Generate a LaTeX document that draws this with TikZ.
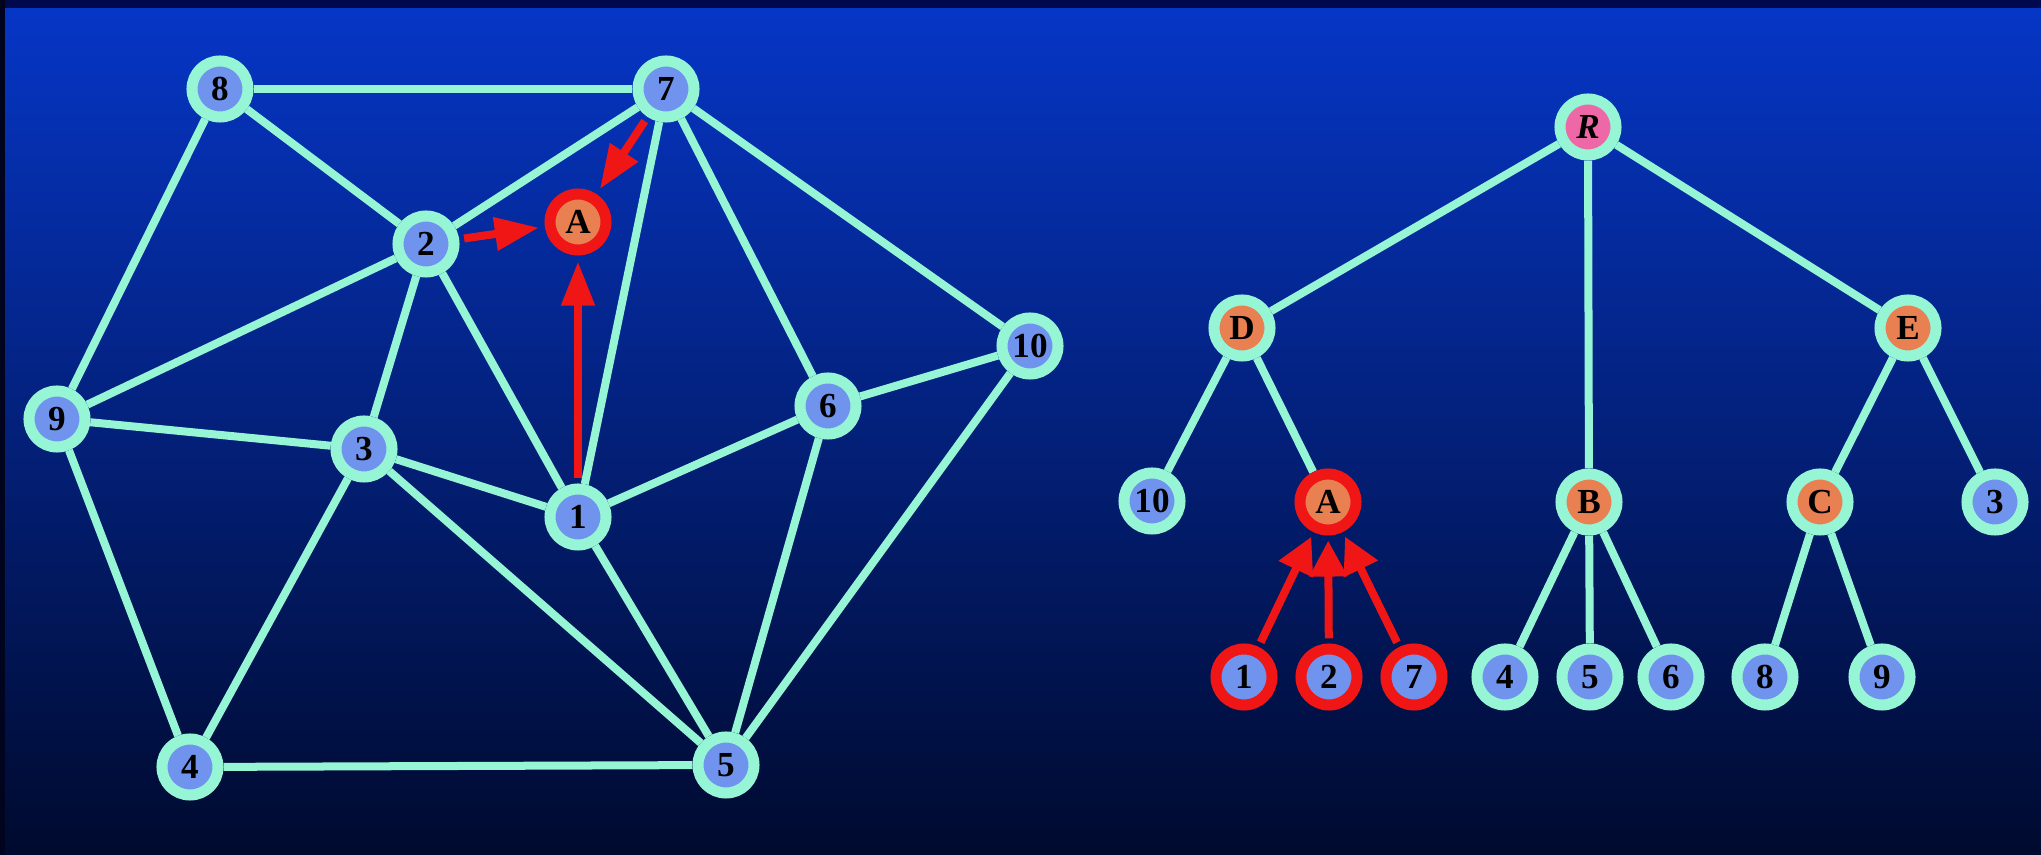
\documentclass[tikz,border=0pt]{standalone}
\usepackage{fontspec}
\setmainfont{Liberation Serif}
\usetikzlibrary{arrows.meta}
\definecolor{edgecyan}{RGB}{150,245,212}
\definecolor{nodeblue}{RGB}{112,148,238}
\definecolor{nodeorange}{RGB}{232,128,82}
\definecolor{nodepink}{RGB}{238,104,168}
\definecolor{markred}{RGB}{240,22,22}
\definecolor{bgtop}{RGB}{6,54,198}
\definecolor{bgmid}{RGB}{6,30,128}
\definecolor{bgbot}{RGB}{0,10,46}
\definecolor{framenavy}{RGB}{0,8,78}
\definecolor{frameleft}{RGB}{0,4,30}
\pgfdeclarelayer{backdrop}
\pgfdeclarelayer{links}
\pgfsetlayers{backdrop,links,main}
\tikzset{
  vert/.style={circle, draw=edgecyan, line width=0.11cm, fill=nodeblue,
    minimum size=0.56cm, inner sep=0pt, text=black,
    font=\fontsize{10}{12}\selectfont\bfseries},
  inner/.style={vert, fill=nodeorange},
  rootv/.style={vert, fill=nodepink, font=\fontsize{10}{12}\selectfont\bfseries\itshape},
  marked/.style={draw=markred},
  link/.style={draw=edgecyan, line width=0.08cm},
  graphArrow/.style={draw=markred, line width=0.08cm,
    -{Triangle[length=0.44cm, width=0.32cm]}, shorten >=0.06cm, shorten <=0.05cm},
  treeArrow/.style={draw=markred, line width=0.08cm,
    -{Triangle[length=0.36cm, width=0.36cm]}, shorten >=0.05cm, shorten <=0.05cm}
}
\begin{document}
\begin{tikzpicture}[x=0.01cm, y=-0.01cm]
\useasboundingbox (0,0) rectangle (2041,855);

% graph on the left
\node[vert] (g8) at (220,89) {8};
\node[vert] (g7) at (666,89) {7};
\node[inner, marked] (gA) at (578,222) {A};
\node[vert] (g2) at (426,244) {2};
\node[vert] (g9) at (57,419) {9};
\node[vert] (g3) at (364,449) {3};
\node[vert] (g1) at (578,517) {1};
\node[vert] (g6) at (828,406) {6};
\node[vert] (g10) at (1030,346) {10};
\node[vert] (g4) at (190,767) {4};
\node[vert] (g5) at (726,765) {5};

% tree on the right
\node[rootv] (R) at (1588,127) {R};
\node[inner] (D) at (1242,328) {D};
\node[inner] (E) at (1908,328) {E};
\node[vert] (t10) at (1152,501) {10};
\node[inner, marked] (tA) at (1328,502) {A};
\node[inner] (B) at (1589,502) {B};
\node[inner] (C) at (1820,502) {C};
\node[vert] (t3) at (1995,502) {3};
\node[vert, marked] (t1) at (1244,677) {1};
\node[vert, marked] (t2) at (1329,677) {2};
\node[vert, marked] (t7) at (1414,677) {7};
\node[vert] (t4) at (1505,677) {4};
\node[vert] (t5) at (1590,677) {5};
\node[vert] (t6) at (1671,677) {6};
\node[vert] (t8) at (1765,677) {8};
\node[vert] (t9) at (1882,677) {9};

\begin{pgfonlayer}{backdrop}
  \fill[framenavy] (0,0) rectangle (2041,855);
  \fill[frameleft] (0,0) rectangle (5,855);
  \shade[top color=bgtop, middle color=bgmid, bottom color=bgbot]
    (5,9) rectangle (2041,855);
\end{pgfonlayer}

\begin{pgfonlayer}{links}
  \foreach \a/\b in {g8/g7, g8/g2, g8/g9, g7/g2, g7/g1, g7/g6, g7/g10,
      g2/g9, g2/g3, g2/g1, g9/g3, g9/g4, g3/g1, g3/g4, g3/g5,
      g1/g6, g1/g5, g6/g10, g6/g5, g10/g5, g4/g5}
    \draw[link] (\a) -- (\b);
  \foreach \a/\b in {R/D, R/B, R/E, D/t10, D/tA, E/C, E/t3,
      B/t4, B/t5, B/t6, C/t8, C/t9}
    \draw[link] (\a) -- (\b);
  \draw[graphArrow] (g7) -- (gA);
  \draw[graphArrow] (g2) -- (gA);
  \draw[graphArrow] (g1) -- (gA);
  \draw[treeArrow] (t1) -- (tA);
  \draw[treeArrow] (t2) -- (tA);
  \draw[treeArrow] (t7) -- (tA);
\end{pgfonlayer}
\end{tikzpicture}
\end{document}
